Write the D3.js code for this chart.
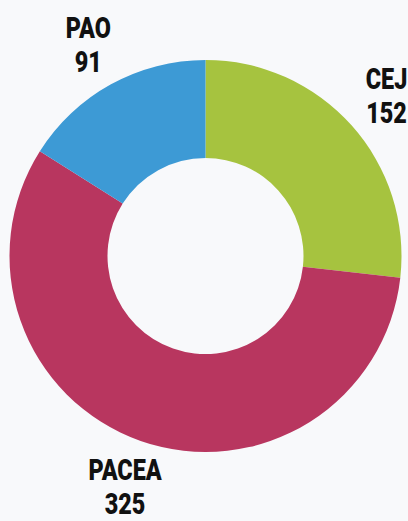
<!DOCTYPE html>
<html>
<head>
<meta charset="utf-8">
<script src="https://cdn.jsdelivr.net/npm/d3@7"></script>
<style>
  html, body { margin: 0; padding: 0; background: #f8f9fb; }
  .lbl { font-family: Roboto, "Liberation Sans", sans-serif; font-weight: 900; font-size: 30px; fill: #111; }
</style>
</head>
<body>
<div id="chart"></div>
<script>
// Donut chart
const categories = ["CEJ", "PACEA", "PAO"];
const values = [152, 325, 91];
const colors = ["#a6c33f", "#b8365f", "#3d9ad5"];

const width = 408, height = 521;
const cx = 205.5, cy = 256;
const outer = 196, inner = 98;

const svg = d3.select("#chart")
  .append("svg")
    .attr("width", width)
    .attr("height", height)
  .append("g")
    .attr("transform", `translate(${cx},${cy})`);

const dataset = categories.map((c, i) => ({name: c, value: values[i], color: colors[i]}));

const pie = d3.pie()
  .value(d => d.value)
  .sort(null);

const arc = d3.arc()
  .innerRadius(inner)
  .outerRadius(outer);

// label arc sits outside the ring
const labelArc = d3.arc()
  .innerRadius(243)
  .outerRadius(243);

const arcs = pie(dataset);

svg.selectAll("path.slice")
  .data(arcs)
  .enter()
  .append("path")
    .attr("class", "slice")
    .attr("d", arc)
    .attr("fill", d => d.data.color);

const labels = svg.selectAll("g.lbl")
  .data(arcs)
  .enter()
  .append("g")
    .attr("transform", d => {
      const [x, y] = labelArc.centroid(d);
      return `translate(${x},${y}) scale(0.78,1)`;
    });

labels.append("text")
  .attr("class", "lbl")
  .attr("text-anchor", "middle")
  .attr("y", -5)
  .text(d => d.data.name);

labels.append("text")
  .attr("class", "lbl")
  .attr("text-anchor", "middle")
  .attr("y", 29)
  .text(d => d.data.value);
</script>
</body>
</html>
